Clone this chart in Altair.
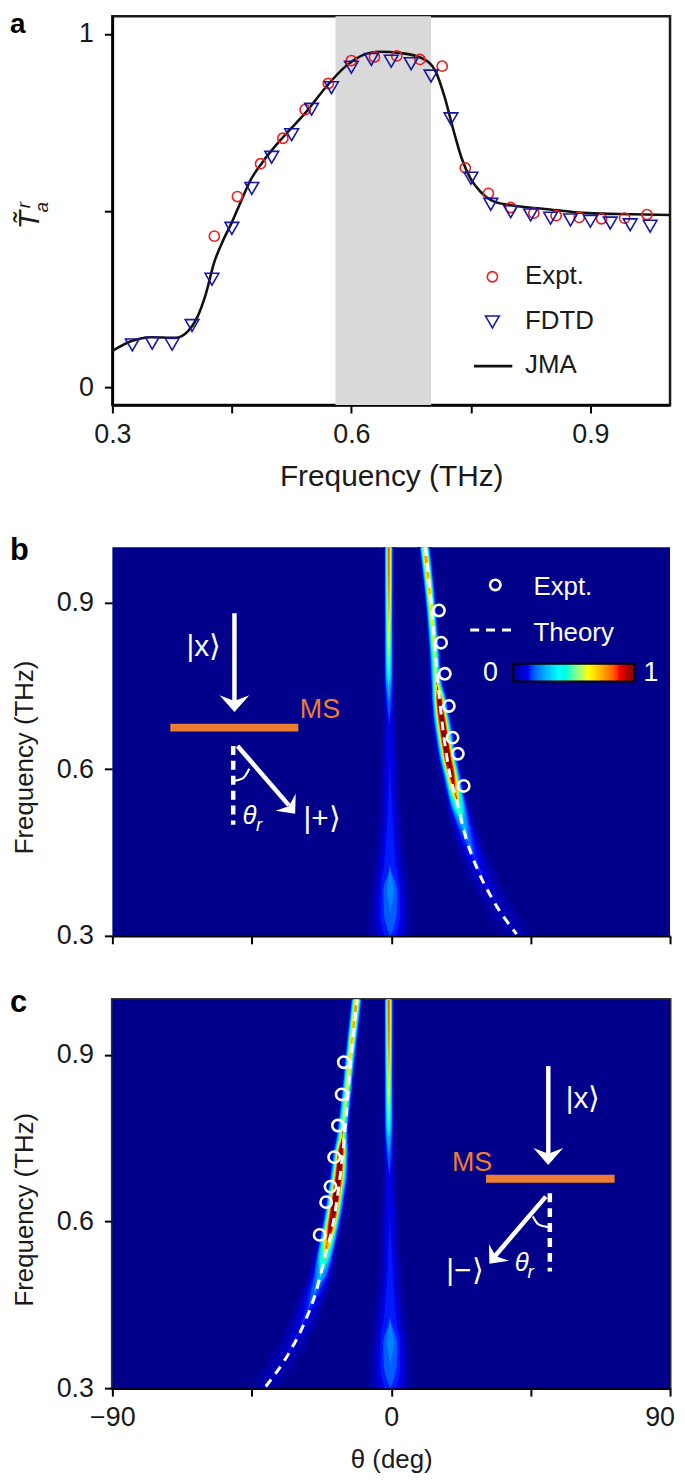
import numpy as np
import pandas as pd
import altair as alt

FONT = "Liberation Sans"
W, H = 561, 391

# ---------- panel a values ----------
JMA_F = [.3,.324,.349,.379,.395,.406,.417,.428,.439,.45,.46,.474,.488,.515,.542,.57,.592,.613,.635,.663,.69,.706,.717,.728,.739,.75,.761,.777,.799,.843,.897,.952,1.0]
JMA_V = [.103,.131,.142,.140,.159,.196,.262,.355,.416,.467,.519,.589,.636,.710,.776,.855,.907,.939,.950,.946,.930,.893,.822,.729,.645,.589,.556,.528,.516,.505,.493,.490,.488]
EXP_F = [.428,.457,.486,.514,.542,.571,.6,.629,.657,.686,.714,.743,.772,.8,.829,.857,.886,.914,.943,.971]
EXP_V = [.428,.540,.633,.705,.786,.860,.925,.935,.938,.928,.909,.621,.549,.509,.493,.486,.481,.477,.479,.489]
FD_F = [.325,.35,.375,.4,.425,.45,.475,.5,.525,.55,.575,.6,.625,.65,.675,.7,.725,.75,.775,.8,.825,.85,.875,.9,.925,.95,.975]
FD_V = [.120,.125,.122,.175,.306,.450,.563,.651,.715,.787,.848,.906,.928,.923,.916,.881,.760,.592,.518,.497,.488,.479,.474,.470,.465,.460,.456]
BAND_A = [.58, .7]

# ---------- panels b, c values ----------
SIDE_F = [1.0,.95,.9,.86,.83,.80,.77,.75,.73,.71,.68,.65,.62,.59,.56,.53,.50,.47,.44,.40,.35,.30]
SIDE_B = [10.8,11.8,12.7,13.3,13.7,14.1,14.4,14.8,15.4,15.8,16.6,17.4,18.3,19.5,20.6,21.8,23.3,25,27,30,35,41]
SIDE_C = [-11.2,-12.2,-13.2,-13.9,-14.4,-15,-15.6,-15.9,-16.2,-16.5,-17.0,-17.8,-18.6,-19.6,-20.7,-21.8,-23,-25,-27,-30,-35,-41]
SIDE_P = [.84,.8,.72,.68,.64,.6,.6,.72,1.05,1.12,1.15,1.15,1.15,1.05,.8,.5,.28,.19,.14,.1,.07,.05]
SIDE_W = [1.25,1.25,1.25,1.25,1.3,1.35,1.4,1.5,1.7,1.8,2,2,2,2,2.1,2.4,2.8,3.3,3.7,4.2,4.8,5.2]
MID_F = [1.0,.95,.9,.86,.83,.80,.77,.75,.72,.68,.62,.55,.48,.43,.38,.34,.30]
MID_T = [-.8,-.8,-.8,-.8,-.8,-.8,-.8,-.8,-.7,-.6,-.5,-.4,-.4,-.4,-.3,-.3,-.3]
MID_P = [.88,.86,.8,.72,.64,.54,.42,.3,.2,.13,.13,.14,.15,.17,.23,.21,.15]
MID_W = [1,1,1,1,1.05,1.1,1.2,1.3,1.5,1.8,2.2,2.5,3.2,3.9,4.4,4.9,5.4]
THEORY_F = [1.0,.9,.742,.61,.539,.473,.419,.366,.303]
THEORY_T = [11,12.9,15.3,18.3,21.3,24.3,27.9,32.7,40.5]
CIR_B_T = [15.4,16.1,17.3,18.6,19.8,21.5,23.4]
CIR_B_F = [.886,.828,.772,.714,.657,.628,.570]
CIR_C_T = [-15.3,-16,-17.2,-18.4,-19.6,-21,-23.1]
CIR_C_F = [.887,.829,.773,.716,.663,.635,.576]
LEVELS = [.02,.04,.07,.1,.13,.17,.21,.25,.3,.35,.4,.45,.5,.55,.6,.65,.7,.75,.8,.85,.9,.95,1.0]
PROF_FRAC = [.01,.03,.1,.25,.5,.75,.9,1]
PROF_HALF = [2.1,1.75,1.4,1.1,.78,.5,.3,0]
JET_D = [0,.125,.375,.625,.875,1]
JET_R = ["#00008b","#0000ff","#00ffff","#ffff00","#ff0000","#800000"]
COLORBAR = list(np.linspace(0, 1, 70))

FX = alt.Scale(domain=[.3, 1.0], nice=False, zero=False)
FY_A = alt.Scale(domain=[-.05, 1.05], nice=False, zero=False)
TH = alt.Scale(domain=[-90, 90], nice=False, zero=False)
FR = alt.Scale(domain=[.3, 1.0], nice=False, zero=False)
CSCALE = alt.Scale(domain=JET_D, range=JET_R, clamp=True)

BASE_AXIS = dict(grid=False, labelFont=FONT, titleFont=FONT, titleFontWeight="normal",
                 labelColor="#1a1a1a", titleColor="#1a1a1a", tickColor="black", domainColor="black",
                 tickWidth=2, tickSize=8, domainWidth=2.5, labelFontSize=27, titleFontSize=26,
                 labelFlush=False, labelOverlap=False)

def df(**k):
    return alt.Data(values=pd.DataFrame(k).to_dict("records"))

def label(t, x, y, size=26, color="#1a1a1a", **kw):
    return alt.Chart(alt.Data(values=[{"t": t}])).mark_text(
        font=FONT, fontSize=size, color=color, **{"align": "left", "baseline": "middle", **kw}
    ).encode(text="t:N", x=alt.value(x), y=alt.value(y))

# ---------- panel a ----------
xa = lambda f: alt.X(f, scale=FX)
ya = lambda f: alt.Y(f, scale=FY_A)
a_shade = alt.Chart(alt.Data(values=[{"a": BAND_A[0], "b": BAND_A[1]}])).mark_rect(color="#d9d9d9").encode(
    x=alt.X("a:Q", scale=FX, axis=alt.Axis(values=[.3,.45,.6,.75,.9],
            labelExpr="(abs(datum.value-0.45)<0.01||abs(datum.value-0.75)<0.01)?'':format(datum.value,'.1f')",
            title="Frequency (THz)", titleFontSize=30, titleY=57, labelPadding=9, **{k: v for k, v in BASE_AXIS.items() if k != "titleFontSize"})),
    x2="b:Q",
    y=alt.Y("y0:Q", scale=FY_A, axis=alt.Axis(values=[0,.5,1], labelExpr="datum.value==0.5?'':format(datum.value,'d')",
            title="", labelPadding=11, **BASE_AXIS)),
    y2="y1:Q",
).transform_calculate(y0="-0.05", y1="1.05")
a_line = alt.Chart(df(f=JMA_F, v=JMA_V)).mark_line(color="#111111", strokeWidth=2.6, interpolate="monotone", clip=True).encode(x=xa("f:Q"), y=ya("v:Q"))
PT_E = dict(shape="circle", color="#ee1c1c", size=105, strokeWidth=1.6, opacity=1)
PT_F = dict(shape="triangle-down", color="#1616a6", size=190, strokeWidth=1.6, opacity=1)
a_exp = alt.Chart(df(f=EXP_F, v=EXP_V)).mark_point(**PT_E).encode(x=xa("f:Q"), y=ya("v:Q"))
a_fd = alt.Chart(df(f=FD_F, v=FD_V)).mark_point(**PT_F).encode(x=xa("f:Q"), y=ya("v:Q"))
a_leg_e = alt.Chart(df(f=[.777], v=[.313])).mark_point(**PT_E).encode(x=xa("f:Q"), y=ya("v:Q"))
a_leg_f = alt.Chart(df(f=[.777], v=[.185])).mark_point(**PT_F).encode(x=xa("f:Q"), y=ya("v:Q"))
a_leg_l = alt.Chart(alt.Data(values=[{"a": .754, "b": .802, "v": .06}])).mark_rule(color="#111111", strokeWidth=2.6).encode(x=xa("a:Q"), x2="b:Q", y=ya("v:Q"))
a_txt = alt.Chart(df(f=[.818,.818,.818], v=[.316,.187,.062], t=["Expt.","FDTD","JMA"])).mark_text(
    font=FONT, fontSize=26, align="left", baseline="middle", color="#1a1a1a").encode(x=xa("f:Q"), y=ya("v:Q"), text="t:N")
a_T = label("T\u0303", -74, 205, size=30, fontStyle="italic", angle=270, align="center", baseline="alphabetic")
a_r = label("r", -83, 190, size=19, fontStyle="italic", angle=270, align="center", baseline="alphabetic")
a_a = label("a", -65, 192, size=19, fontStyle="italic", angle=270, align="center", baseline="alphabetic")
a_letter = label("a", -103, 17, size=28, color="black", fontWeight="bold", baseline="alphabetic")
panel_a = alt.layer(a_shade, a_line, a_exp, a_fd, a_leg_e, a_leg_f, a_leg_l, a_txt, a_T, a_r, a_a, a_letter).properties(
    width=W, height=H, view=alt.ViewConfig(stroke="#1a1a1a", strokeWidth=2.5, fill="white"))

# ---------- heat panels ----------
def contours(fs, centers, peaks, widths):
    rows = []
    for L in LEVELS:
        for f, c, p, w in zip(fs, centers, peaks, widths):
            hw = w * float(np.interp(L / p, PROF_FRAC, PROF_HALF)) if L < p else 0.0
            rows.append({"f": f, "lo": c - hw, "hi": c + hw, "level": L})
    return alt.Data(values=rows)

xh = lambda f: alt.X(f, scale=TH, stack=None)
yh = lambda f: alt.Y(f, scale=FR)

def band(data):
    return alt.Chart(data).mark_area(orient="horizontal", interpolate="monotone", clip=True).encode(
        x=xh("lo:Q"), x2="hi:Q", y=yh("f:Q"),
        color=alt.Color("level:Q", scale=CSCALE, legend=None))

def rule_x(a, b, f, color="white", w=3, **kw):
    return alt.Chart(alt.Data(values=[{"a": a, "b": b, "f": f}])).mark_rule(color=color, strokeWidth=w, **kw).encode(x=xh("a:Q"), x2="b:Q", y=yh("f:Q"))

def rule_y(t, f1, f2, w=3, **kw):
    return alt.Chart(alt.Data(values=[{"t": t, "a": f1, "b": f2}])).mark_rule(color="white", strokeWidth=w, **kw).encode(x=xh("t:Q"), y=yh("a:Q"), y2="b:Q")

def seg(ts, fs, w=4, **kw):
    return alt.Chart(df(t=ts, f=fs)).mark_line(color="white", strokeWidth=w, **kw).encode(x=xh("t:Q"), y=yh("f:Q"))

HEAD = "M0,0 L-1,-1.13 L0,-0.75 L1,-1.13 Z"
def head(t, f, size, angle=0):
    return alt.Chart(df(t=[t], f=[f])).mark_point(shape=HEAD, filled=True, color="white", opacity=1, size=size, angle=angle).encode(x=xh("t:Q"), y=yh("f:Q"))

def ann(t, f, text, size=26, color="white", **kw):
    return alt.Chart(df(t=[t], f=[f], s=[text])).mark_text(font=FONT, fontSize=size, color=color, **{"align": "center", "baseline": "middle", **kw}).encode(x=xh("t:Q"), y=yh("f:Q"), text="s:N")

def axis_b():
    return alt.Axis(values=[.3,.6,.9], format=".1f", title="Frequency (THz)", titleY=211, titleX=-80, titleBaseline="alphabetic", labelPadding=11, domain=False, **BASE_AXIS)

def frame(xaxis):
    return alt.Chart(alt.Data(values=[{"a": -90, "b": 90, "f": .3, "g": 1.0}])).mark_rect(color="#00008b").encode(
        x=alt.X("a:Q", scale=TH, axis=xaxis), x2="b:Q",
        y=alt.Y("f:Q", scale=FR, axis=axis_b()), y2="g:Q")

mid = band(contours(MID_F, MID_T, MID_P, MID_W))

# panel b
b_x = alt.Axis(values=[-90,-45,0,45,90], labels=False, title="", **BASE_AXIS)
b_layers = [
    frame(b_x), mid, band(contours(SIDE_F, SIDE_B, SIDE_P, SIDE_W)),
    alt.Chart(df(t=THEORY_T, f=THEORY_F)).mark_line(color="white", strokeWidth=3, strokeDash=[9, 7], interpolate="monotone", clip=True).encode(x=xh("t:Q"), y=yh("f:Q")),
    alt.Chart(df(t=CIR_B_T, f=CIR_B_F)).mark_point(shape="circle", color="white", size=130, strokeWidth=2.6, opacity=1).encode(x=xh("t:Q"), y=yh("f:Q")),
    rule_y(-50.6, .881, .72, w=4.5), head(-50.6, .703, 900),
    rule_x(-71.3, -30, .675, color="#ed7d31", w=8),
    ann(-29.5, .706, "MS", 27, color="#ed7d31", align="left"),
    ann(-60.5, .82, "|x\u27e9", 30),
    rule_y(-51, .642, .5, w=4.5, strokeDash=[9, 6]),
    seg([-49.6, -33], [.642, .535], w=4.5), head(-31, .52, 700, angle=320),
    seg([-50.6, -47.9, -45.8], [.579, .5835, .601], w=2.2, interpolate="monotone"),
    ann(-45.7, .516, "\u03b8", 26, fontStyle="italic"),
    ann(-42.6, .5, "r", 19, fontStyle="italic"),
    ann(-22.3, .51, "|+\u27e9", 30),
    alt.Chart(df(t=[33.6], f=[.932])).mark_point(shape="circle", color="white", size=110, strokeWidth=2.6, opacity=1).encode(x=xh("t:Q"), y=yh("f:Q")),
    ann(45.9, .928, "Expt.", align="left"), ann(45.9, .846, "Theory", align="left"),
    alt.Chart(alt.Data(values=[{"a": 25.5, "b": 40.5, "f": .851}])).mark_rule(color="white", strokeWidth=3, strokeDash=[9, 7]).encode(x=xh("a:Q"), x2="b:Q", y=yh("f:Q")),
    ann(32, .773, "0", 27), ann(83.8, .773, "1", 27),
    alt.Chart(pd.DataFrame({"v": COLORBAR, "a": [39.3 + 38.7 * v for v in COLORBAR], "b": [39.3 + 38.7 * v + 0.9 for v in COLORBAR]})).transform_calculate(f1="0.79", f2="0.758").mark_rect().encode(
        x=alt.X("a:Q", scale=TH), x2="b:Q", y=alt.Y("f1:Q", scale=FR), y2="f2:Q",
        color=alt.Color("v:Q", scale=CSCALE, legend=None)),
    alt.Chart(alt.Data(values=[{"a": 39.3, "b": 78.6, "f1": .79, "f2": .758}])).mark_rect(fill=None, stroke="black", strokeWidth=2).encode(x=xh("a:Q"), x2="b:Q", y=yh("f1:Q"), y2="f2:Q"),
    label("b", -103, 13, size=31, color="black", fontWeight="bold", baseline="alphabetic"),
]
panel_b = alt.layer(*b_layers).properties(width=W, height=H, view=alt.ViewConfig(stroke="transparent"))

# panel c
c_x = alt.Axis(values=[-90,-45,0,45,90], labelExpr="datum.value==-90?'\u221290':datum.value==0?'0':''",
               title="\u03b8 (deg)", titleY=59, labelPadding=9, **BASE_AXIS)
c_layers = [
    frame(c_x), mid, band(contours(SIDE_F, SIDE_C, SIDE_P, SIDE_W)),
    alt.Chart(df(t=[-v for v in THEORY_T], f=THEORY_F)).mark_line(color="white", strokeWidth=3, strokeDash=[9, 7], interpolate="monotone", clip=True).encode(x=xh("t:Q"), y=yh("f:Q")),
    alt.Chart(df(t=CIR_C_T, f=CIR_C_F)).mark_point(shape="circle", color="white", size=130, strokeWidth=2.6, opacity=1).encode(x=xh("t:Q"), y=yh("f:Q")),
    rule_y(50.7, .88, .72, w=4.5), head(50.7, .702, 900),
    rule_x(30.6, 72.1, .677, color="#ed7d31", w=8),
    ann(32.6, .706, "MS", 27, color="#ed7d31", align="right"),
    ann(61.9, .82, "|x\u27e9", 30),
    rule_y(51.2, .651, .51, w=4.5, strokeDash=[9, 6]),
    seg([49.9, 33.5], [.645, .538], w=4.5), head(31.7, .524, 700, angle=40),
    seg([45.7, 47.5, 50.7], [.609, .595, .59], w=2.2, interpolate="monotone"),
    ann(42.1, .525, "\u03b8", 26, fontStyle="italic"),
    ann(45, .51, "r", 19, fontStyle="italic"),
    ann(23.8, .51, "|\u2212\u27e9", 30),
    label("90", W + 5, H + 17, size=27, align="right", baseline="top"),
    label("c", -103, 13, size=31, color="black", fontWeight="bold", baseline="alphabetic"),
]
panel_c = alt.layer(*c_layers).properties(width=W, height=H, view=alt.ViewConfig(stroke="#333333", strokeWidth=3))

spacer = alt.Chart(alt.Data(values=[{"a": 0}])).mark_point(opacity=0).encode(x=alt.value(0)).properties(
    width=W, height=15, view=alt.ViewConfig(stroke="transparent"))

chart = alt.vconcat(panel_a, spacer, panel_b, panel_c, spacing=64, bounds="flush").properties(
    padding={"left": 0, "top": -3, "right": 0, "bottom": 0})
chart = chart.configure(background="white")
chart.save("out.html", embed_options={"renderer": "svg", "actions": False})
